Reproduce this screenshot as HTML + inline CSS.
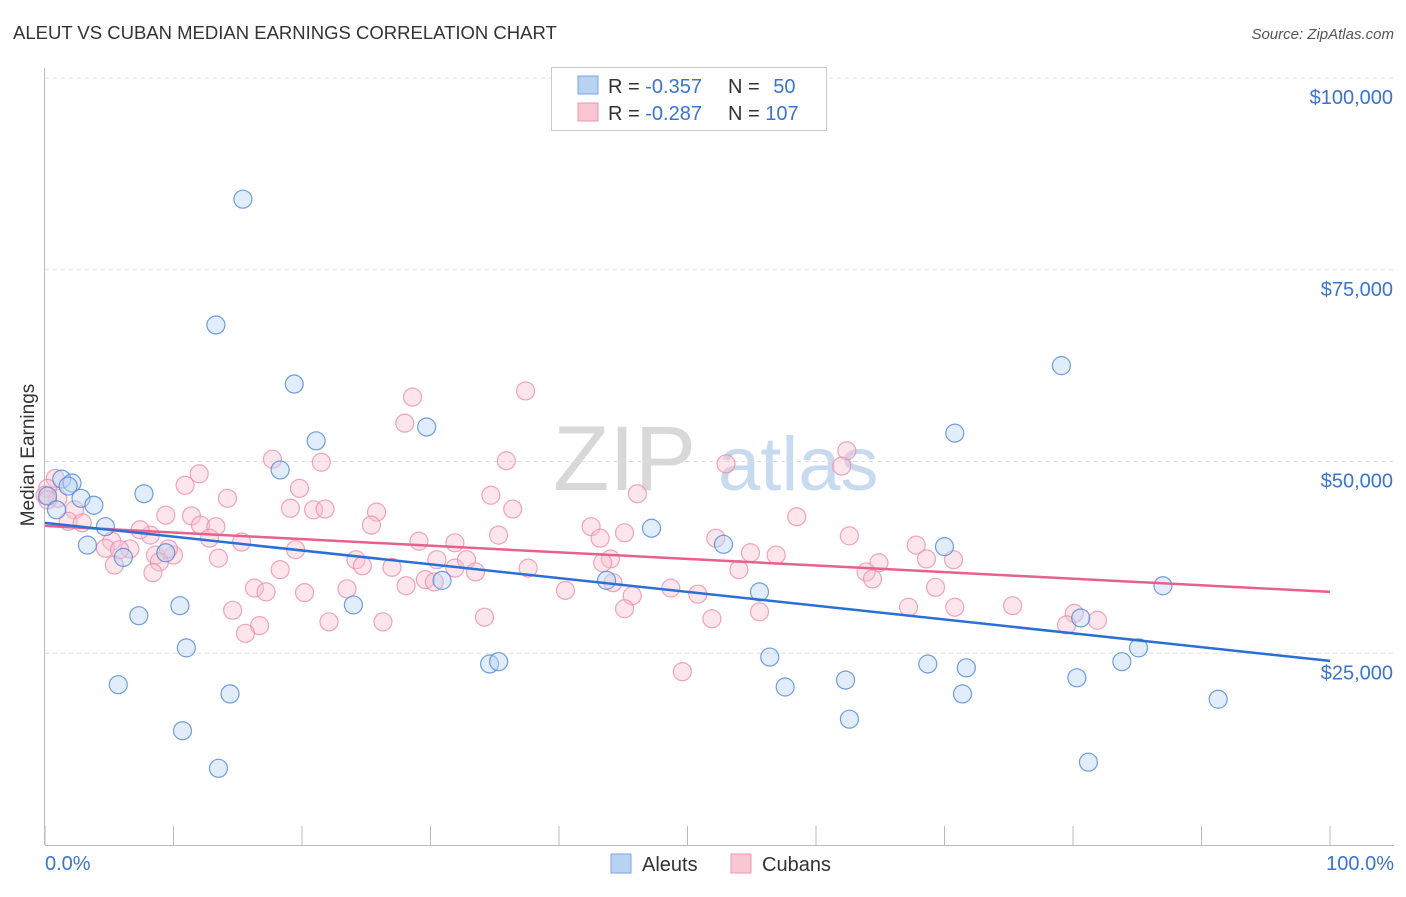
<!DOCTYPE html>
<html><head><meta charset="utf-8"><style>
body{margin:0;background:#fff;font-family:"Liberation Sans",sans-serif;}
svg text{font-family:"Liberation Sans",sans-serif;}
</style></head><body>
<svg id="chart" width="1406" height="892" xmlns="http://www.w3.org/2000/svg">
<text x="13" y="39" font-size="18.5" fill="#333">ALEUT VS CUBAN MEDIAN EARNINGS CORRELATION CHART</text>
<text x="1394" y="39" font-size="15" fill="#555" font-style="italic" text-anchor="end">Source: ZipAtlas.com</text>
<g>
<text x="553" y="490" font-size="92" fill="#d8d8d8" font-family="Liberation Serif">ZIP</text>
<text x="718" y="490" font-size="76" fill="#c8daf0">atlas</text>
</g>
<g id="grid"></g>
<g id="axes"></g>
<g id="marks"></g>
<text transform="translate(34,455) rotate(-90)" font-size="19" fill="#333" text-anchor="middle">Median Earnings</text>
<g>
<rect x="551.5" y="67.5" width="275" height="63" fill="#fff" stroke="#ccc"/>
<rect x="578" y="76" width="20" height="18" fill="#b8d3f4" stroke="#7aa6e0"/>
<rect x="578" y="103" width="20" height="18" fill="#f9c6d4" stroke="#ec9ab2"/>
<text x="608" y="93" font-size="20" fill="#333">R = <tspan fill="#3a74cf">-0.357</tspan></text>
<text x="728" y="93" font-size="20" fill="#333">N = <tspan fill="#3a74cf" dx="8">50</tspan></text>
<text x="608" y="120" font-size="20" fill="#333">R = <tspan fill="#3a74cf">-0.287</tspan></text>
<text x="728" y="120" font-size="20" fill="#333">N = <tspan fill="#3a74cf">107</tspan></text>
</g>
<g>
<rect x="611" y="854" width="20" height="19" fill="#b8d3f4" stroke="#7aa6e0"/>
<text x="642" y="871" font-size="20" fill="#333">Aleuts</text>
<rect x="731" y="854" width="20" height="19" fill="#f9c6d4" stroke="#ec9ab2"/>
<text x="762" y="871" font-size="20" fill="#333">Cubans</text>
</g>
</svg>
<script>
const yTicks=[25000,50000,75000,100000];
const yTickLabels=["$25,000","$50,000","$75,000","$100,000"];
const xTickLabels=["0.0%","100.0%"];
const aleutX=[15.4,13.3,19.4,79.1,21.1,29.7,70.8,18.3,1.3,2.1,1.8,0.2,2.8,7.7,0.9,3.8,4.7,47.2,3.3,52.8,70.0,9.4,6.1,43.7,30.9,87.0,55.6,10.5,24.0,7.3,80.6,11.0,85.1,56.4,34.6,35.3,83.8,68.7,71.7,5.7,57.6,62.3,80.3,14.4,71.4,91.3,62.6,10.7,13.5,81.2];
const aleutY=[84.2,67.8,60.1,62.5,52.7,54.5,53.7,48.9,47.7,47.2,46.8,45.5,45.2,45.8,43.7,44.3,41.5,41.3,39.1,39.2,38.9,38.1,37.5,34.5,34.5,33.8,33.0,31.2,31.3,29.9,29.6,25.7,25.7,24.5,23.6,23.9,23.9,23.6,23.1,20.9,20.6,21.5,21.8,19.7,19.7,19.0,16.4,14.9,10.0,10.8];
const cubanX=[37.4,28.6,28.0,62.4,17.7,21.5,35.9,53.0,62.0,12.0,0.8,0.2,10.9,19.8,46.1,34.7,1.0,14.2,19.1,20.9,21.8,25.8,36.4,2.3,9.4,11.4,58.5,1.8,2.9,25.4,42.5,12.1,13.3,35.3,8.2,7.4,29.1,12.8,15.3,5.2,31.9,43.2,45.1,52.2,62.6,67.8,4.7,19.5,6.6,5.8,8.6,10.0,9.6,54.9,56.9,13.5,24.2,24.7,30.5,31.9,32.8,5.4,8.9,68.6,70.7,64.9,63.9,44.0,43.4,37.6,33.5,27.0,8.4,18.3,54.0,29.6,64.4,30.3,44.2,16.3,17.2,28.1,23.5,40.5,48.7,69.3,20.2,50.8,45.7,14.6,67.2,70.8,75.3,55.6,45.1,80.1,81.9,51.9,34.2,26.3,22.1,16.7,79.5,15.6,49.6,0,0.2];
const cubanY=[59.2,58.4,55.0,51.4,50.3,49.9,50.1,49.7,49.4,48.4,47.8,46.5,46.9,46.5,45.8,45.6,45.2,45.2,43.9,43.7,43.8,43.4,43.8,43.7,43.0,42.9,42.8,42.2,42.0,41.7,41.5,41.7,41.5,40.4,40.4,41.1,39.6,40.0,39.5,39.6,39.4,40.0,40.7,40.0,40.3,39.1,38.7,38.5,38.6,38.5,37.8,37.8,38.6,38.1,37.8,37.4,37.2,36.4,37.2,36.1,37.2,36.5,36.9,37.3,37.2,36.8,35.6,37.3,36.8,36.1,35.6,36.2,35.5,35.9,35.9,34.6,34.7,34.3,34.2,33.5,33.0,33.8,33.4,33.2,33.5,33.6,32.9,32.7,32.5,30.6,31.0,31.0,31.2,30.4,30.8,30.2,29.3,29.5,29.7,29.1,29.1,28.6,28.7,27.6,22.6,45.6,45.0];
const aleutTrend=[42.0,24.0];
const cubanTrend=[41.6,33.0];

const NS="http://www.w3.org/2000/svg";
const X0=45,X1=1330,Y0=845;
const xs=p=>X0+(X1-X0)*p/100;
const ys=v=>Y0-v*(767/100000);
function mk(tag,attrs,parent){const e=document.createElementNS(NS,tag);for(const k in attrs)e.setAttribute(k,attrs[k]);parent.appendChild(e);return e;}
const grid=document.getElementById('grid'),axes=document.getElementById('axes'),marks=document.getElementById('marks');
yTicks.forEach((t,i)=>{
  const l=mk('line',{x1:45,x2:1394,y1:ys(t),y2:ys(t),stroke:'#ddd','stroke-dasharray':'4,4'},grid);
  
  
  const tx=mk('text',{x:1393,y:ys(t)+26,'font-size':20,fill:'#3a74cf','text-anchor':'end'},axes);
  tx.textContent=yTickLabels[i];
  
  
});
const yl=mk('line',{x1:44.5,x2:44.5,y1:68,y2:845,stroke:'#bbb'},axes);


const xl=mk('line',{x1:45,x2:1394,y1:845.5,y2:845.5,stroke:'#bbb'},axes);


for(let i=0;i<=10;i++){
  const t=mk('line',{x1:xs(i*10),x2:xs(i*10),y1:826,y2:845,stroke:'#bbb'},axes);
  
  
}
const xt0=mk('text',{x:45,y:870,'font-size':20,fill:'#3a74cf'},axes);xt0.textContent=xTickLabels[0];


const xt1=mk('text',{x:1394,y:870,'font-size':20,fill:'#3a74cf','text-anchor':'end'},axes);xt1.textContent=xTickLabels[1];


function pts(X,Y,fill,stroke,name){
  X.forEach((x,i)=>{
    const c=mk('circle',{cx:xs(x),cy:ys(Y[i]*1000),r:9,fill:fill,'fill-opacity':0.42,stroke:stroke,'stroke-opacity':0.8,'stroke-width':1.2},marks);
    
    
  });
}
pts(cubanX,cubanY,'#f9c0d0','#ec8fab','cuban-point');
pts(aleutX,aleutY,'#b8d3f4','#4f86d8','aleut-point');
const t1=mk('line',{x1:xs(0),x2:xs(100),y1:ys(cubanTrend[0]*1000),y2:ys(cubanTrend[1]*1000),stroke:'#e8608b','stroke-width':2.5},marks);


const t2=mk('line',{x1:xs(0),x2:xs(100),y1:ys(aleutTrend[0]*1000),y2:ys(aleutTrend[1]*1000),stroke:'#2a6fd6','stroke-width':2.5},marks);


</script>
</body></html>
